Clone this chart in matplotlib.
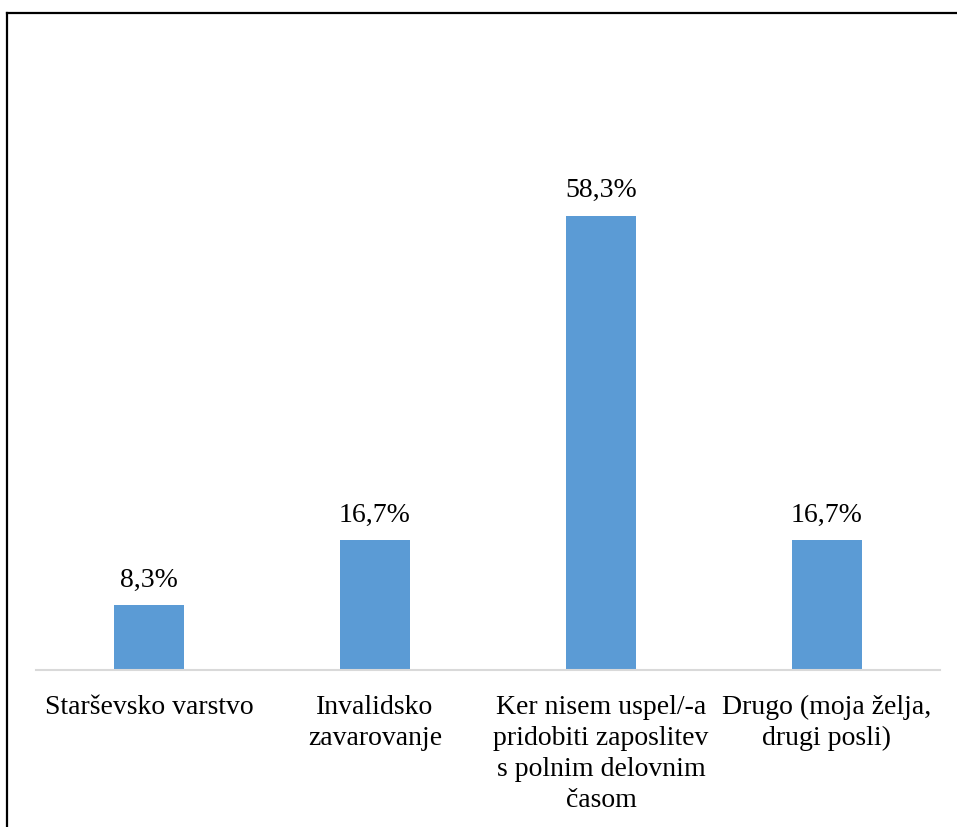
import matplotlib
matplotlib.use("Agg")
import matplotlib.pyplot as plt
from matplotlib.lines import Line2D

categories = [
    "Starševsko varstvo",
    "Invalidsko\nzavarovanje",
    "Ker nisem uspel/-a\npridobiti zaposlitev\ns polnim delovnim\nčasom",
    "Drugo (moja želja,\ndrugi posli)",
]
values = [8.3, 16.7, 58.3, 16.7]
labels = ["8,3%", "16,7%", "58,3%", "16,7%"]

plt.rcParams['font.family'] = ['Liberation Serif', 'DejaVu Serif']

W, H = 957, 827
fig = plt.figure(figsize=(W / 100, H / 100), dpi=100)
x0, x1 = 36, 940
ybase, ytop = 670, 124.7
ax = fig.add_axes([x0 / W, (H - ybase) / H, (x1 - x0) / W, (ybase - ytop) / H])

xs = list(range(len(categories)))
ax.bar(xs, values, width=0.31, color="#5B9BD5", zorder=2)
for x, v, l in zip(xs, values, labels):
    ax.annotate(l, (x, v), xytext=(0, 9), textcoords="offset points",
                ha="center", va="bottom", fontsize=20, color="#000000")

ax.set_xlim(-0.5, len(categories) - 0.5)
ax.set_ylim(0, 70)
ax.set_xticks(xs)
ax.set_xticklabels(categories, fontsize=20, color="#000000", linespacing=1.32)
ax.tick_params(axis="x", length=0, pad=18)
ax.set_yticks([])
for s in ["left", "right", "top"]:
    ax.spines[s].set_visible(False)
ax.spines["bottom"].set_color("#d9d9d9")
ax.spines["bottom"].set_linewidth(1.5)

# outer frame (left and top edges visible)
fig.add_artist(Line2D([7 / W, 7 / W], [0, (H - 13) / H], color="black", lw=1.6,
                      transform=fig.transFigure))
fig.add_artist(Line2D([7 / W, 1], [(H - 13) / H, (H - 13) / H], color="black", lw=1.6,
                      transform=fig.transFigure))

fig.savefig("out.png", dpi=100)
